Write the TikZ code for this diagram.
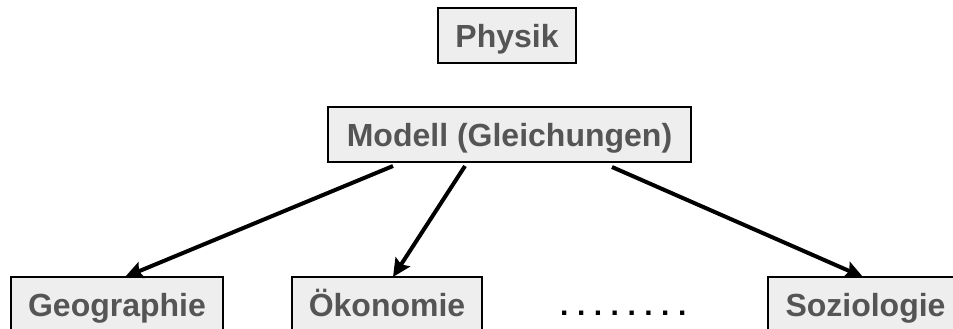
\documentclass[tikz,border=0pt]{standalone}
\usepackage{fontspec}
\setmainfont{Liberation Sans}
\usetikzlibrary{arrows.meta}
\definecolor{boxfill}{HTML}{EEEEEE}
\definecolor{txtgray}{HTML}{555555}
\newcommand{\pdot}{.\kern8.5bp}
\tikzset{
  box/.style={draw=black, line width=1.5bp, fill=boxfill, text=txtgray,
    font=\fontsize{32bp}{38bp}\selectfont\bfseries, inner sep=0pt,
    text height=23bp, text depth=0pt, minimum height=55bp, anchor=center},
  arr/.style={line width=4bp, -{Stealth[length=18bp,width=17bp,inset=3bp]}}
}
\begin{document}
\begin{tikzpicture}[x=1bp,y=-1bp]
\clip (0,0) rectangle (953,328);
\node[box, minimum width=138bp] (phys) at (507,35.5) {Physik};
\node[box, minimum width=363bp] (mod) at (509.5,134.5) {Modell (Gleichungen)};
\node[box, minimum width=212bp] (geo) at (117,304.5) {Geographie};
\node[box, minimum width=190bp] (oek) at (387,304.5) {Ökonomie};
\node[box, minimum width=195bp] (soz) at (865.5,304.5) {Soziologie};
\node[font=\fontsize{30bp}{36bp}\selectfont\bfseries, text=black, inner sep=0pt, anchor=base west] (dots) at (560,315) {\pdot\pdot\pdot\pdot\pdot\pdot\pdot.};
\coordinate (s1) at (393,166);
\coordinate (s2) at (465,166);
\coordinate (s3) at (612,167);
\coordinate (e1) at (125,277);
\coordinate (e2) at (393,277);
\coordinate (e3) at (863,277);
\draw[arr] (s1) -- (e1);
\draw[arr] (s2) -- (e2);
\draw[arr] (s3) -- (e3);
\end{tikzpicture}
\end{document}
